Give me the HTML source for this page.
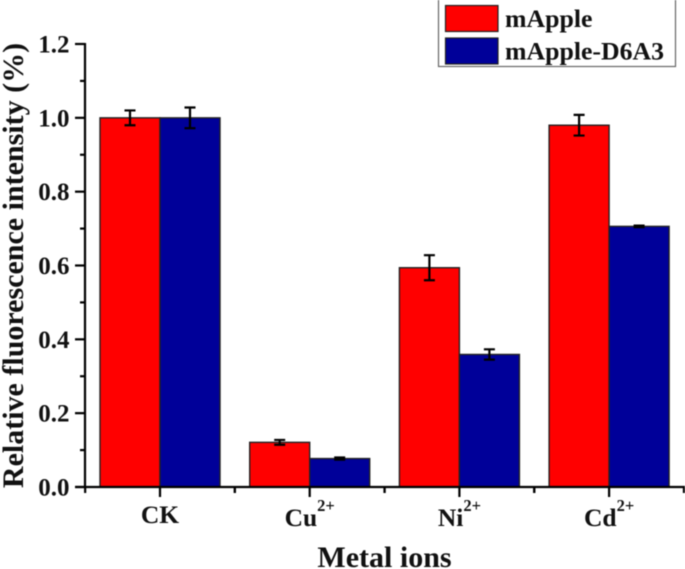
<!DOCTYPE html>
<html>
<head>
<meta charset="utf-8">
<style>
html,body{margin:0;padding:0;background:#fff;}
svg{display:block;filter:blur(0.45px);}
text{font-family:"Liberation Serif",serif;font-weight:bold;fill:#111;}
</style>
</head>
<body>
<svg id="chart" width="685" height="569" viewBox="0 0 685 569" xmlns="http://www.w3.org/2000/svg"></svg>
<script>
const categories = ["CK", "Cu", "Ni", "Cd"];
const superscripts = ["", "2+", "2+", "2+"];
const seriesNames = ["mApple", "mApple-D6A3"];
const mAppleValues = [1.0, 0.121, 0.594, 0.98];
const mAppleErrors = [0.02, 0.0065, 0.034, 0.028];
const d6a3Values = [1.0, 0.077, 0.359, 0.706];
const d6a3Errors = [0.028, 0.003, 0.014, 0.002];
const yTickLabels = ["0.0", "0.2", "0.4", "0.6", "0.8", "1.0", "1.2"];
const yMax = 1.2;

const svg = document.getElementById('chart');
const NS = 'http://www.w3.org/2000/svg';
function yPos(v){ return 487 - (v / yMax) * 443; }
function xCenter(i){ return 160 + i * 149.7; }
function mk(tag, attrs, txt){
  const e = document.createElementNS(NS, tag);
  for (const k in attrs) e.setAttribute(k, attrs[k]);
  if (txt !== undefined) e.textContent = txt;
  svg.appendChild(e);
  return e;
}
const barW = 60;
const colors = ['#ff0000', '#000099'];
const allVals = [mAppleValues, d6a3Values];
const allErrs = [mAppleErrors, d6a3Errors];

// bars
allVals.forEach(function(vals, s){
  vals.forEach(function(v, i){
    const x = xCenter(i) + (s === 0 ? -barW : 0);
    const r = mk('rect', {x:x, y:yPos(v), width:barW, height:487 - yPos(v), fill:colors[s], stroke:'#222', 'stroke-width':1.4});
    
    
  });
});

// error bars
allVals.forEach(function(vals, s){
  vals.forEach(function(v, i){
    const cx = xCenter(i) + (s === 0 ? -barW / 2 : barW / 2);
    const e = allErrs[s][i];
    const top = yPos(v + e), bot = yPos(v - e);
    const p = mk('path', {d:'M'+(cx-5.5)+' '+top+'H'+(cx+5.5)+'M'+cx+' '+top+'V'+bot+'M'+(cx-5.5)+' '+bot+'H'+(cx+5.5), fill:'none', stroke:'#000', 'stroke-width':2.2});
    
    
  });
});

// axes
const yAxis = mk('line', {x1:85, y1:43, x2:85, y2:488, stroke:'#000', 'stroke-width':2.2});


const xAxis = mk('line', {x1:75, y1:487, x2:685, y2:487, stroke:'#000', 'stroke-width':2.2});



// y ticks
yTickLabels.forEach(function(label, i){
  const v = parseFloat(label);
  const y = yPos(v);
  const t = mk('line', {x1:75, y1:y, x2:85, y2:y, stroke:'#000', 'stroke-width':2.2});
  
  
  const l = mk('text', {x:69.5, y:y + 8.5, 'text-anchor':'end', 'font-size':25}, label);
  
  
  if (i < yTickLabels.length - 1) {
    const my = yPos(v + yMax / (yTickLabels.length - 1) / 2);
    const m = mk('line', {x1:80, y1:my, x2:85, y2:my, stroke:'#000', 'stroke-width':2.2});
    
    
  }
});

// x ticks
categories.forEach(function(c, i){
  const cx = xCenter(i);
  const t = mk('line', {x1:cx, y1:487, x2:cx, y2:497, stroke:'#000', 'stroke-width':2.2});
  
  
  const m1 = mk('line', {x1:cx - 74.85, y1:487, x2:cx - 74.85, y2:493, stroke:'#000', 'stroke-width':2.2});
  
  
  const m2 = mk('line', {x1:cx + 74.85, y1:487, x2:cx + 74.85, y2:493, stroke:'#000', 'stroke-width':2.2});
  
  
  const hasSup = superscripts[i] !== '';
  const l = mk('text', {x:cx, y:hasSup ? 526 : 523, 'font-size':25.5}, c);
  
  
  const w = l.getComputedTextLength();
  if (hasSup) {
    const s = mk('text', {x:cx, y:511, 'font-size':16.5}, superscripts[i]);
    
    
    const sw = s.getComputedTextLength();
    const start = cx - (w + sw) / 2;
    l.setAttribute('x', start);
    s.setAttribute('x', start + w);
  } else {
    l.setAttribute('x', cx - w / 2);
  }
});

// axis titles
const xt = mk('text', {x:384.5, y:567, 'text-anchor':'middle', 'font-size':30}, 'Metal ions');


const yt = mk('text', {x:0, y:0, transform:'translate(23,265.5) rotate(-90)', 'text-anchor':'middle', 'font-size':30}, 'Relative fluorescence intensity (%)');



// legend
const box = mk('rect', {x:438.5, y:-1, width:237, height:67.5, fill:'#fff', stroke:'#666', 'stroke-width':1.2});


seriesNames.forEach(function(n, s){
  const sw = mk('rect', {x:445.5, y:5.5 + s * 32.5, width:52.5, height:26, fill:colors[s], stroke:'#222', 'stroke-width':1.2});
  
  
  const t = mk('text', {x:505, y:27 + s * 32.5, 'font-size':25.8}, n);
  
  
});
</script>
</body>
</html>
